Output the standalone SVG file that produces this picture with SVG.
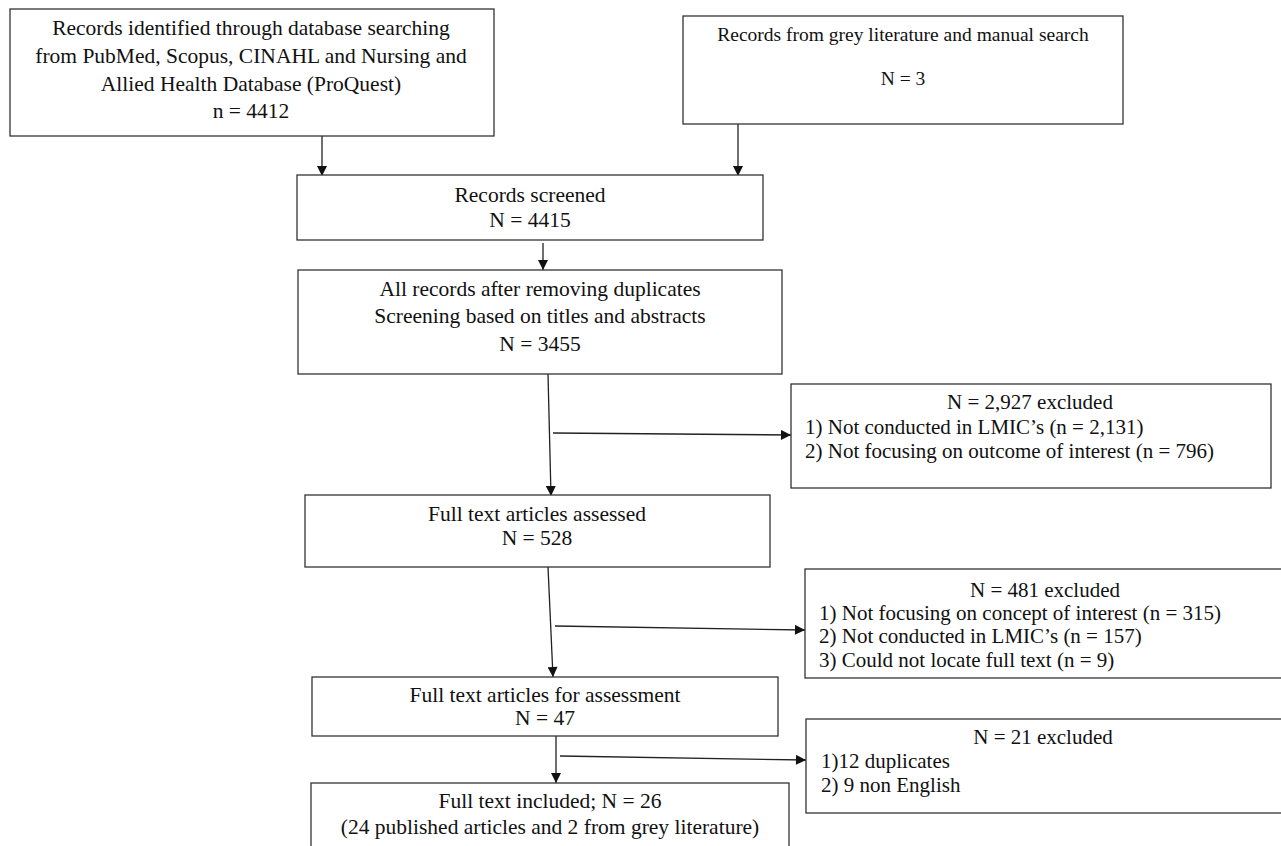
<svg xmlns="http://www.w3.org/2000/svg" width="1281" height="846" viewBox="0 0 1281 846">
<style>
.box{fill:#fff;stroke:#333;stroke-width:1.3}
.t{font-family:"Liberation Serif","Times New Roman",serif;font-size:21.5px;fill:#111}
.s{font-size:19.5px}
.e{font-size:21px}
.c{text-anchor:middle}
.ln{stroke:#222;stroke-width:1.3;fill:none}
</style>
<defs>
<marker id="ah" viewBox="0 0 10 10" refX="10" refY="5" markerWidth="11" markerHeight="10" markerUnits="userSpaceOnUse" orient="auto">
<path d="M0,0 L10,5 L0,10 z" fill="#111"/>
</marker>
</defs>
<rect width="1281" height="846" fill="#fff"/>
<g id="connectors">
<line class="ln" x1="322" y1="136" x2="322" y2="176" marker-end="url(#ah)"/>
<line class="ln" x1="738" y1="124" x2="738" y2="176" marker-end="url(#ah)"/>
<line class="ln" x1="543" y1="243" x2="543" y2="270" marker-end="url(#ah)"/>
<line class="ln" x1="548" y1="374" x2="551" y2="496" marker-end="url(#ah)"/>
<line class="ln" x1="553" y1="433" x2="791" y2="435" marker-end="url(#ah)"/>
<line class="ln" x1="548" y1="567" x2="553" y2="677" marker-end="url(#ah)"/>
<line class="ln" x1="555" y1="626" x2="805" y2="630" marker-end="url(#ah)"/>
<line class="ln" x1="556" y1="736" x2="556" y2="783" marker-end="url(#ah)"/>
<line class="ln" x1="560" y1="756" x2="806" y2="760" marker-end="url(#ah)"/>
</g>
<g id="db">
<rect class="box" x="10" y="9" width="484" height="127"/>
<text class="t c" x="251" y="35">Records identified through database searching</text>
<text class="t c" x="251" y="63">from PubMed, Scopus, CINAHL and Nursing and</text>
<text class="t c" x="251" y="91">Allied Health Database (ProQuest)</text>
<text class="t c" x="251" y="118">n = 4412</text>
</g>
<g id="grey">
<rect class="box" x="683" y="16" width="440" height="108"/>
<text class="t s c" x="903" y="41">Records from grey literature and manual search</text>
<text class="t s c" x="903" y="85">N = 3</text>
</g>
<g id="screened">
<rect class="box" x="297" y="175" width="466" height="65"/>
<text class="t c" x="530" y="202">Records screened</text>
<text class="t c" x="530" y="227">N = 4415</text>
</g>
<g id="dedup">
<rect class="box" x="298" y="270" width="484" height="104"/>
<text class="t c" x="540" y="296">All records after removing duplicates</text>
<text class="t c" x="540" y="323">Screening based on titles and abstracts</text>
<text class="t c" x="540" y="351">N = 3455</text>
</g>
<g id="excl1">
<rect class="box" x="791" y="384" width="480" height="104"/>
<text class="t e c" x="1030" y="409">N = 2,927 excluded</text>
<text class="t e" x="805" y="434">1) Not conducted in LMIC’s (n = 2,131)</text>
<text class="t e" x="805" y="458">2) Not focusing on outcome of interest (n = 796)</text>
</g>
<g id="assessed">
<rect class="box" x="305" y="495" width="465" height="72"/>
<text class="t c" x="537" y="521">Full text articles assessed</text>
<text class="t c" x="537" y="545">N = 528</text>
</g>
<g id="excl2">
<rect class="box" x="805" y="569" width="500" height="109"/>
<text class="t e c" x="1045" y="597">N = 481 excluded</text>
<text class="t e" x="819" y="620">1) Not focusing on concept of interest (n = 315)</text>
<text class="t e" x="819" y="643">2) Not conducted in LMIC’s (n = 157)</text>
<text class="t e" x="819" y="667">3) Could not locate full text (n = 9)</text>
</g>
<g id="forassess">
<rect class="box" x="312" y="677" width="466" height="59"/>
<text class="t c" x="545" y="702">Full text articles for assessment</text>
<text class="t c" x="545" y="725">N = 47</text>
</g>
<g id="excl3">
<rect class="box" x="806" y="719" width="500" height="94"/>
<text class="t e c" x="1043" y="744">N = 21 excluded</text>
<text class="t e" x="821" y="768">1)12 duplicates</text>
<text class="t e" x="821" y="792">2) 9 non English</text>
</g>
<g id="included">
<rect class="box" x="311" y="783" width="478" height="80"/>
<text class="t c" x="550" y="808">Full text included; N = 26</text>
<text class="t c" x="550" y="834">(24 published articles and 2 from grey literature)</text>
</g>
</svg>
